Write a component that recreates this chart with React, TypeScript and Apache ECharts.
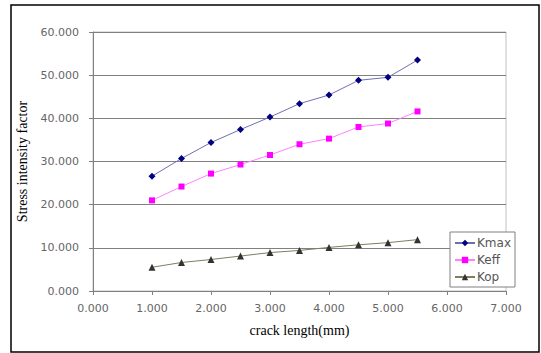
import React, { useEffect, useRef } from "react";
import * as echarts from "echarts";

const crackLength = [1.0, 1.5, 2.0, 2.5, 3.0, 3.5, 4.0, 4.5, 5.0, 5.5];
const kmax = [26.6, 30.7, 34.4, 37.4, 40.3, 43.4, 45.4, 48.8, 49.5, 53.5];
const keff = [21.0, 24.2, 27.2, 29.3, 31.5, 34.0, 35.3, 38.0, 38.8, 41.6];
const kop = [5.5, 6.6, 7.3, 8.1, 8.9, 9.4, 10.1, 10.7, 11.2, 11.9];

const pairs = (ys: number[]) => crackLength.map((x, i) => [x, ys[i]]);

export default function App() {
  const ref = useRef<HTMLDivElement>(null);
  useEffect(() => {
    if (!ref.current) return;
    const chart = echarts.init(ref.current, undefined, { renderer: "svg" });
    const tickFont = { color: "#666", fontSize: 11, fontFamily: "DejaVu Sans" };
    chart.setOption({
      animation: false,
      backgroundColor: "#fff",
      grid: {
        left: 93,
        top: 32,
        right: 35,
        bottom: 62,
        show: true,
        borderColor: "#c0c0c0",
        borderWidth: 1,
      },
      xAxis: {
        type: "value",
        min: 0,
        max: 7,
        interval: 1,
        name: "crack length(mm)",
        nameLocation: "middle",
        nameGap: 32,
        nameTextStyle: { color: "#000", fontSize: 14, fontFamily: "Liberation Serif" },
        axisLine: { show: true, lineStyle: { color: "#808080", width: 1 } },
        axisTick: { show: true, inside: false, length: 4, lineStyle: { color: "#808080" } },
        splitLine: { show: false },
        axisLabel: { ...tickFont, margin: 12, formatter: (v: number) => v.toFixed(3) },
      },
      yAxis: {
        type: "value",
        min: 0,
        max: 60,
        interval: 10,
        name: "Stress intensity factor",
        nameLocation: "middle",
        nameGap: 57,
        nameTextStyle: { color: "#000", fontSize: 14, fontFamily: "Liberation Serif" },
        axisLine: { show: true, lineStyle: { color: "#808080", width: 1 } },
        axisTick: { show: true, inside: false, length: 4, lineStyle: { color: "#808080" } },
        splitLine: { show: true, lineStyle: { color: "#808080", width: 1 } },
        axisLabel: { ...tickFont, margin: 14, formatter: (v: number) => v.toFixed(3) },
      },
      legend: {
        orient: "vertical",
        left: 450,
        top: 232,
        width: 52,
        padding: [5, 4, 4, 4],
        itemGap: 5,
        itemWidth: 20,
        itemHeight: 8,
        backgroundColor: "#fff",
        borderColor: "#808080",
        borderWidth: 1,
        textStyle: { color: "#555", fontSize: 12, fontFamily: "DejaVu Sans", padding: [0, 0, 0, -3] },
        data: ["Kmax", "Keff", "Kop"],
      },
      graphic: [
        {
          type: "rect",
          shape: { x: 11, y: 5, width: 528, height: 347 },
          style: { fill: "none", stroke: "#000", lineWidth: 1.5 },
          silent: true,
        },
      ],
      series: [
        {
          name: "Kmax",
          type: "line",
          data: pairs(kmax),
          symbol: "diamond",
          symbolSize: 7,
          itemStyle: { color: "#000080" },
          lineStyle: { color: "#6f6fb0", width: 1 },
        },
        {
          name: "Keff",
          type: "line",
          data: pairs(keff),
          symbol: "rect",
          symbolSize: 6,
          itemStyle: { color: "#ff00ff" },
          lineStyle: { color: "#ff80ff", width: 1 },
        },
        {
          name: "Kop",
          type: "line",
          data: pairs(kop),
          symbol: "triangle",
          symbolSize: 7,
          itemStyle: { color: "#333333" },
          lineStyle: { color: "#7f7f5f", width: 1 },
        },
      ],
    });
    return () => chart.dispose();
  }, []);
  return (
    <div
      ref={ref}
      style={{ position: "fixed", left: 0, top: 0, width: 541, height: 353 }}
    />
  );
}
